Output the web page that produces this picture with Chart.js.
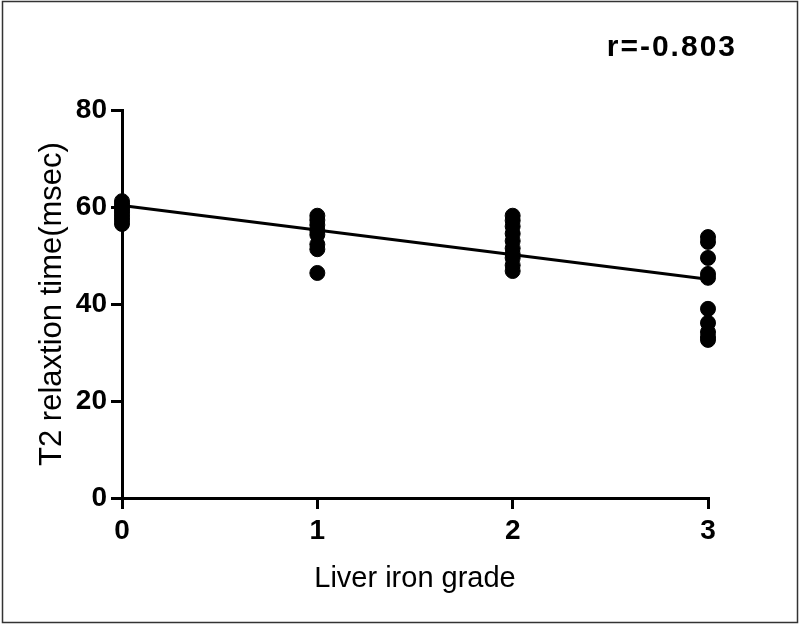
<!DOCTYPE html>
<html>
<head>
<meta charset="utf-8">
<script src="https://cdn.jsdelivr.net/npm/chart.js@4.4.1/dist/chart.umd.min.js"></script>
<style>
    body { margin: 0; background: #fff; }
    #cadre { width: 800px; height: 626px; position: relative; }
</style>
</head>
<body>
<div id="cadre"><canvas id="graphique-t2"></canvas></div>
<script>
// Grades de fer hépatique (axe x)
const grades = [0, 1, 2, 3];

// Temps de relaxation T2 (msec) lus pour chaque grade
const t2Grade0 = [61.2, 60.6, 60, 59.5, 59, 58.4, 57.8, 57.2, 56.5];
const t2Grade1 = [58.2, 57.3, 56.3, 55.2, 54.3, 52.3, 51.3, 46.4];
const t2Grade2 = [58.2, 57.2, 56, 54.5, 53, 51.5, 50.3, 49.5, 48, 46.8];
const t2Grade3 = [53.8, 52.8, 49.5, 46.2, 45.4, 39, 36.1, 34.2, 33.2, 32.6];

// Droite de régression
const ligneX = [0, 3];
const ligneY = [60.3, 45.1];

const yTicks = [0, 20, 40, 60, 80];
const coefficient = "r=-0.803";

const police = "'Liberation Sans', Arial, sans-serif";

const t2ParGrade = [t2Grade0, t2Grade1, t2Grade2, t2Grade3];
const points = [];
for (let i = 0; i < grades.length; i++) {
    for (let valeur of t2ParGrade[i]) {
        points.push({ x: grades[i], y: valeur });
    }
}

const ligne = [];
for (let i = 0; i < ligneX.length; i++) {
    ligne.push({ x: ligneX[i], y: ligneY[i] });
}

// Cadre gris et texte du coefficient
const pluginCadre = {
    id: "cadre",
    afterDraw(chart) {
        const ctx = chart.ctx;
        ctx.save();
        ctx.strokeStyle = "#333";
        ctx.lineWidth = 1.5;
        ctx.strokeRect(2.5, 1.5, 795, 621);
        ctx.fillStyle = "#000";
        ctx.font = "bold 30px " + police;
        ctx.letterSpacing = "2px";
        ctx.textAlign = "right";
        ctx.textBaseline = "middle";
        ctx.fillText(coefficient, 737, 48);
        ctx.restore();
    }
};

const config = {
    type: "scatter",
    data: {
        datasets: [
            {
                label: "T2",
                data: points,
                backgroundColor: "#000",
                borderColor: "#000",
                pointRadius: 7.5,
                pointHoverRadius: 7.5,
                clip: false,
            },
            {
                label: "Régression",
                type: "line",
                data: ligne,
                borderColor: "#000",
                borderWidth: 3,
                pointRadius: 0,
                fill: false,
                clip: false,
            },
        ],
    },
    options: {
        responsive: true,
        maintainAspectRatio: false,
        animation: false,
        layout: {
            padding: { left: 30, right: 92, top: 110, bottom: 26 },
        },
        plugins: {
            legend: { display: false },
            tooltip: { enabled: false },
        },
        scales: {
            x: {
                type: "linear",
                min: 0,
                max: 3,
                afterBuildTicks: (axis) => { axis.ticks = grades.map(v => ({ value: v })); },
                afterFit: (axis) => { axis.height = 102; },
                border: { display: true, color: "#000", width: 3 },
                grid: { display: true, drawOnChartArea: false, drawTicks: true, tickLength: 11, color: "#000", lineWidth: 3 },
                ticks: { color: "#000", padding: 5, font: { family: police, size: 28, weight: "bold" } },
                title: {
                    display: true,
                    text: "Liver iron grade",
                    color: "#000",
                    padding: { top: 4, bottom: 4 },
                    font: { family: police, size: 29 },
                },
            },
            y: {
                type: "linear",
                min: 0,
                max: 80,
                afterBuildTicks: (axis) => { axis.ticks = yTicks.map(v => ({ value: v })); },
                afterFit: (axis) => { axis.width = 92; },
                border: { display: true, color: "#000", width: 3 },
                grid: { display: true, drawOnChartArea: false, drawTicks: true, tickLength: 11, color: "#000", lineWidth: 3 },
                ticks: { color: "#000", padding: 4, font: { family: police, size: 28, weight: "bold" } },
                title: {
                    display: true,
                    text: "T2 relaxtion time(msec)",
                    color: "#000",
                    padding: { top: 4, bottom: 4 },
                    font: { family: police, size: 31 },
                },
            },
        },
    },
    plugins: [pluginCadre],
};

new Chart(document.querySelector("#graphique-t2"), config);
</script>
</body>
</html>
